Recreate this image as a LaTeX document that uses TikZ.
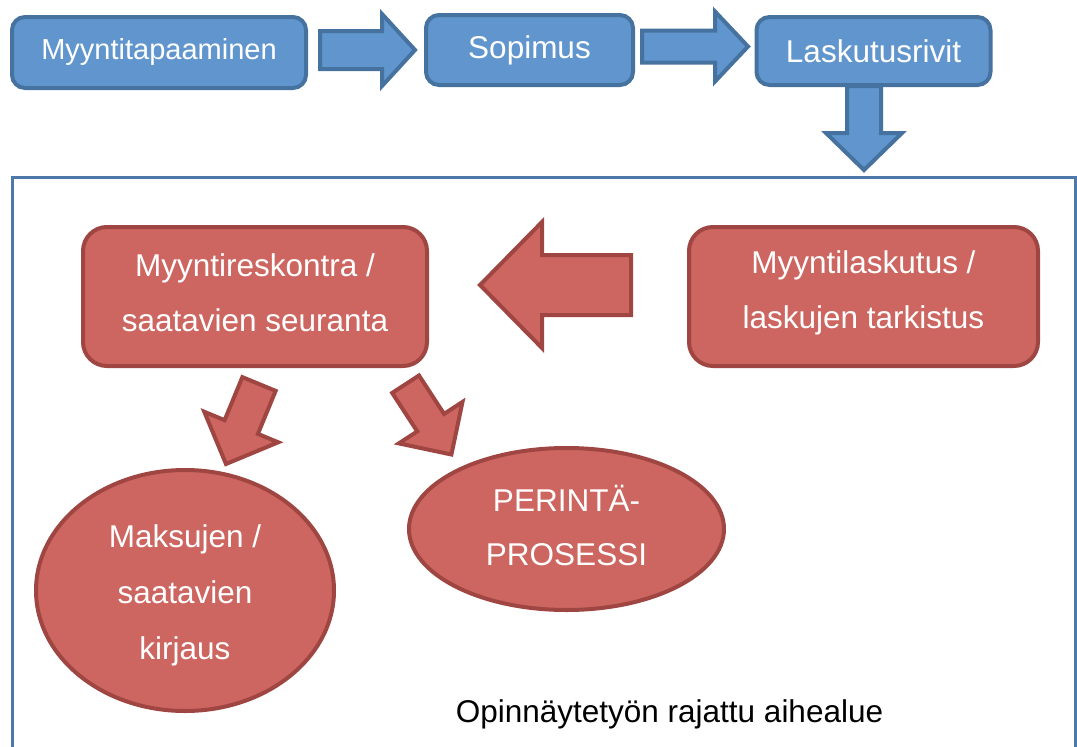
\documentclass[tikz,border=0pt]{standalone}
\usepackage{fontspec}
\setmainfont{Liberation Sans}
\usetikzlibrary{calc,shapes.geometric}

\definecolor{bluefill}{RGB}{96,150,205}
\definecolor{blueline}{RGB}{70,114,160}
\definecolor{redfill}{RGB}{205,102,96}
\definecolor{redline}{RGB}{160,70,66}
\definecolor{frameline}{RGB}{78,120,168}

\tikzset{
  stepbox/.style={draw=blueline, fill=bluefill, line width=4pt, rounded corners=13pt,
    text=white, inner sep=0pt, font=\fontsize{31.5}{38}\selectfont},
  redbox/.style={draw=redline, fill=redfill, line width=4pt, rounded corners=24pt, inner sep=0pt},
  redoval/.style={ellipse, draw=redline, fill=redfill, line width=4pt, inner sep=0pt},
  redtext/.style={text=white, inner sep=0pt, align=center, font=\fontsize{31.5}{#1}\selectfont},
  redtext/.default=55,
  bluearrow/.style={draw=blueline, fill=bluefill, line width=4pt, line join=miter},
  redarrow/.style={draw=redline, fill=redfill, line width=4pt, line join=miter},
  areatext/.style={text=black, inner sep=0pt, font=\fontsize{31.5}{38}\selectfont},
}

% block arrow: style, from, to, shaft half-width, head half-width, head length
\newcommand\blockarrow[6]{%
  \draw[#1] ($(#2)!#4!90:(#3)$)
    -- ($(#3)!#6!(#2)!#4!270:(#2)$)
    -- ($(#3)!#6!(#2)!#5!270:(#2)$)
    -- (#3)
    -- ($(#3)!#6!(#2)!#5!90:(#2)$)
    -- ($(#3)!#6!(#2)!#4!90:(#2)$)
    -- ($(#2)!#4!270:(#3)$) -- cycle;}

\begin{document}
\begin{tikzpicture}[x=1pt,y=-1pt]
  \useasboundingbox (0,0) rectangle (1077,747);

  % frame of the delimited topic area
  \draw[frameline, line width=3pt] (12,770) -- (12,177) -- (1075,177) -- (1075,770);

  % top process chain
  \node[stepbox, minimum width=294pt, minimum height=71pt,
        font=\fontsize{29}{35}\selectfont] (meet) at (159,52.5) {Myyntitapaaminen};
  \node[stepbox, minimum width=207pt, minimum height=70pt] (contract) at (529.5,50) {Sopimus};
  \node[stepbox, minimum width=234pt, minimum height=68pt] (rows) at (873.5,51) {Laskutusrivit};

  \coordinate (a1s) at (320,50);   \coordinate (a1e) at (415,50);
  \coordinate (a2s) at (642,46.5); \coordinate (a2e) at (748,46.5);
  \coordinate (a3s) at (864,86);   \coordinate (a3e) at (864,170);
  \blockarrow{bluearrow}{a1s}{a1e}{19pt}{36pt}{33pt}
  \blockarrow{bluearrow}{a2s}{a2e}{16pt}{35pt}{33pt}
  \blockarrow{bluearrow}{a3s}{a3e}{17pt}{38pt}{37pt}

  % inside the area: shapes
  \node[redbox, minimum width=344pt, minimum height=139pt] (ledger) at (255,296.5) {};
  \node[redbox, minimum width=349pt, minimum height=139pt] (billing) at (863.5,296.5) {};
  \node[redoval, minimum width=298pt, minimum height=241pt] (payments) at (185,590.5) {};
  \node[redoval, minimum width=315pt, minimum height=162pt] (collection) at (566.5,529) {};

  % inside the area: labels
  \node[redtext] (ledger-text) at ($(ledger.center)+(0,-4)$)
    {Myyntireskontra /\\saatavien seuranta};
  \node[redtext] (billing-text) at ($(billing.center)+(0,-4)$)
    {Myyntilaskutus /\\laskujen tarkistus};
  \node[redtext=56] (payments-text) at ($(payments.center)+(0,5)$)
    {Maksujen /\\saatavien\\kirjaus};
  \node[redtext=54] (collection-text) at ($(collection.center)+(0,-4)$)
    {PERINTÄ-\\PROSESSI};

  \coordinate (a4s) at (631,285);     \coordinate (a4e) at (480,285);
  \coordinate (a5s) at (259,384);     \coordinate (a5e) at (226,464);
  \coordinate (a6s) at (405.6,384.2); \coordinate (a6e) at (451.4,454.5);
  \blockarrow{redarrow}{a4s}{a4e}{30pt}{63pt}{62pt}
  \blockarrow{redarrow}{a5s}{a5e}{18pt}{40pt}{40pt}
  \blockarrow{redarrow}{a6s}{a6e}{16pt}{38pt}{38pt}

  \node[areatext, anchor=base] (area) at (669.5,722) {Opinnäytetyön rajattu aihealue};
\end{tikzpicture}
\end{document}
